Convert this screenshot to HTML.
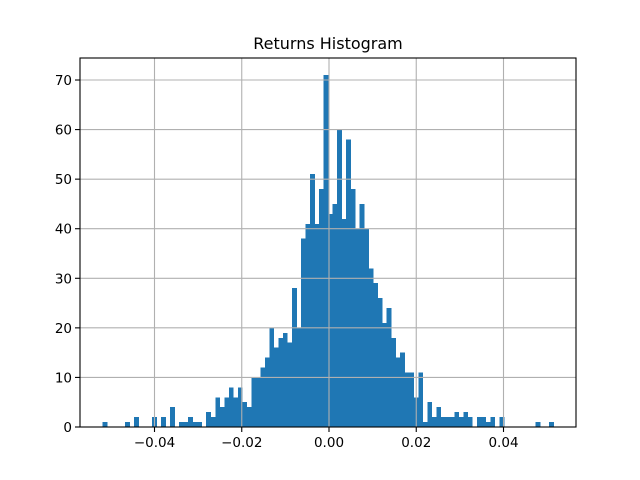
<!DOCTYPE html>
<html><head><meta charset="utf-8"><style>
body{margin:0;background:#fff}
svg{display:block;font-family:"DejaVu Sans","Liberation Sans",sans-serif}
</style></head><body>
<svg id="chart" width="640" height="480">
<rect width="640" height="480" fill="#fff"/>
<text x="328" y="49" text-anchor="middle" font-size="16" fill="#000">Returns Histogram</text>
<g id="bars" shape-rendering="crispEdges"></g><g id="grid"></g><g id="axes"></g>
</svg>
<script>
const counts=[1,0,0,0,0,1,0,2,0,0,0,2,0,2,0,4,0,1,1,2,1,1,0,3,2,6,4,6,8,6,8,5,4,10,10,12,14,20,16,18,19,17,28,20,38,41,51,41,48,71,43,45,60,42,58,48,40,45,40,32,29,26,21,24,18,14,15,11,11,6,11,1,5,2,4,2,2,2,3,2,3,2,0,2,2,1,2,0,2,0,0,0,0,0,0,0,1,0,0,1];
const binStart=-0.05192, binEnd=0.05148;
const xTicks=[-0.04,-0.02,0,0.02,0.04];
const xTickLabels=["\u22120.04","\u22120.02","0.00","0.02","0.04"];
const yTicks=[0,10,20,30,40,50,60,70];
const L=80,R=576,T=58,B=427;
const xs=v=>329+v*4362.5;
const ys=v=>B-v*4.957;
const NS="http://www.w3.org/2000/svg";
function mk(tag,attrs,parent){const e=document.createElementNS(NS,tag);for(const k in attrs)e.setAttribute(k,attrs[k]);parent.appendChild(e);return e;}
const bars=document.getElementById('bars'),grid=document.getElementById('grid'),axes=document.getElementById('axes');
const w=(binEnd-binStart)/counts.length;
counts.forEach((c,i)=>{if(!c)return;const x0=xs(binStart+i*w),x1=xs(binStart+(i+1)*w);
const r=mk('rect',{x:x0,y:ys(c),width:x1-x0+0.3,height:B-ys(c),fill:'#1f77b4'},bars);

});
xTicks.forEach((t,i)=>{const x=xs(t);
const g=mk('line',{x1:x,x2:x,y1:T,y2:B,stroke:'#b0b0b0','stroke-width':1.1},grid);


mk('line',{x1:x,x2:x,y1:B,y2:B+5,stroke:'#000','stroke-width':1.1},axes);
const tx=mk('text',{x:x,y:B+20,'text-anchor':'middle','font-size':13.5},axes);tx.textContent=xTickLabels[i];

});
yTicks.forEach(t=>{const y=ys(t);
const g=mk('line',{x1:L,x2:R,y1:y,y2:y,stroke:'#b0b0b0','stroke-width':1.1},grid);


mk('line',{x1:L-5,x2:L,y1:y,y2:y,stroke:'#000','stroke-width':1.1},axes);
const tx=mk('text',{x:L-8,y:y+5,'text-anchor':'end','font-size':13.5},axes);tx.textContent=String(t);

});
const f=mk('rect',{x:L,y:T,width:R-L,height:B-T,fill:'none',stroke:'#000','stroke-width':1.1},axes);


</script>
</body></html>
